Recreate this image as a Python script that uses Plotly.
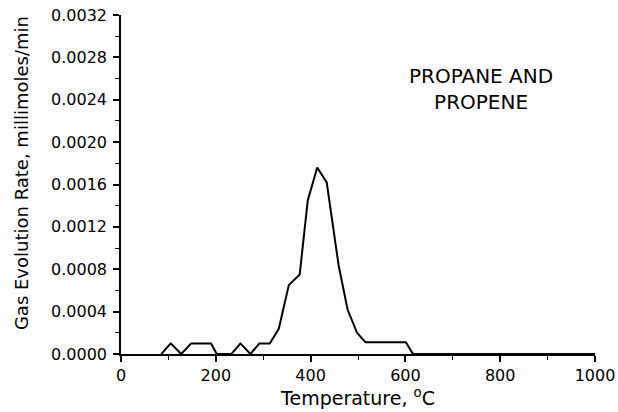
import plotly.graph_objects as go

# Evolution of propane + propene during heating
temperature_c = [85, 105, 127, 148, 190, 202, 233, 252, 273, 292, 314, 333, 354,
                 377, 394, 414, 434, 459, 478, 498, 516, 601, 616, 1000]
rate_mmol_min = [0.0, 0.0001, 0.0, 0.0001, 0.0001, 0.0, 0.0, 0.0001, 0.0, 0.0001,
                 0.0001, 0.00024, 0.00065, 0.00075, 0.00145, 0.00176, 0.00162,
                 0.00084, 0.00042, 0.0002, 0.00011, 0.00011, 0.0, 0.0]

x_ticks = [0, 200, 400, 600, 800, 1000]
y_ticks = [0.0, 0.0004, 0.0008, 0.0012, 0.0016, 0.0020, 0.0024, 0.0028, 0.0032]
y_tick_text = [f"{v:.4f}" for v in y_ticks]

font_family = "DejaVu Sans"

fig = go.Figure()
fig.add_trace(go.Scatter(
    x=temperature_c, y=rate_mmol_min, mode="lines",
    line=dict(color="black", width=2), showlegend=False,
))

fig.add_annotation(
    x=760, y=0.00250, xref="x", yref="y",
    text="PROPANE AND<br>PROPENE", showarrow=False, align="center",
    font=dict(family=font_family, size=20, color="black"),
)

# Rotated y-axis label placed in paper coordinates
fig.add_annotation(
    x=-0.21, y=0.535, xref="paper", yref="paper",
    text="Gas Evolution Rate, millimoles/min", showarrow=False,
    textangle=-90, xanchor="center", yanchor="middle",
    font=dict(family=font_family, size=18, color="black"),
)

axis_common = dict(
    showgrid=False, zeroline=False, showline=True, linecolor="black",
    linewidth=1.5, ticks="outside", tickcolor="black", tickwidth=1.5,
    ticklen=6, automargin=False,
    tickfont=dict(family=font_family, size=16, color="black"),
)

fig.update_xaxes(
    range=[0, 1000], tickvals=x_ticks, ticktext=[str(t) for t in x_ticks],
    minor=dict(dtick=100, ticks="outside", ticklen=4, tickcolor="black", tickwidth=1),
    title=dict(text="Temperature, <sup>o</sup>C", standoff=6,
               font=dict(family=font_family, size=19, color="black")),
    **axis_common,
)
fig.update_yaxes(
    range=[0, 0.0032], tickvals=y_ticks, ticktext=y_tick_text,
    minor=dict(dtick=0.0002, ticks="outside", ticklen=4, tickcolor="black", tickwidth=1),
    ticklabelstandoff=3,
    **axis_common,
)

fig.update_layout(
    width=618, height=412,
    margin=dict(l=121, r=23, t=15, b=58),
    paper_bgcolor="white", plot_bgcolor="white",
)

fig.write_html("out.html")
